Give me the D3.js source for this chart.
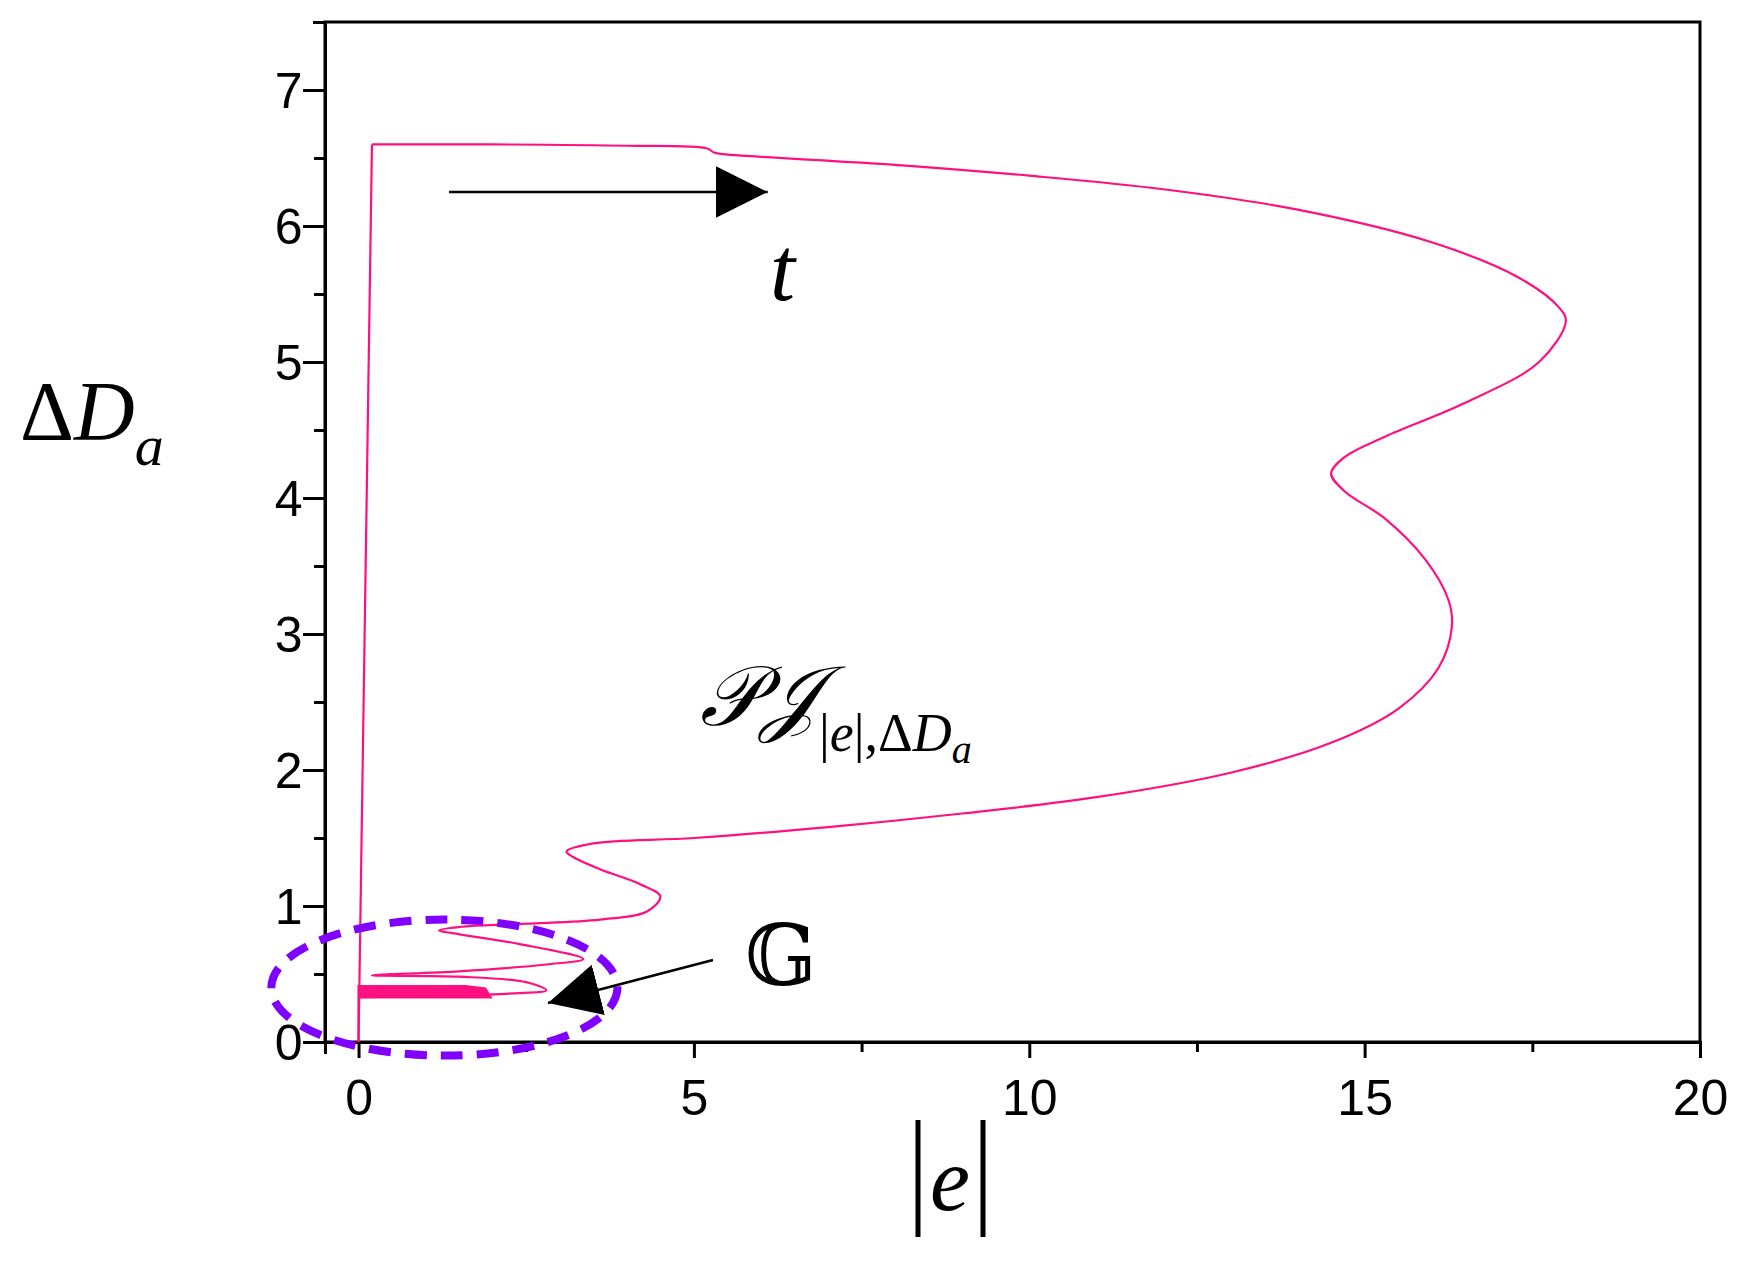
<!DOCTYPE html>
<html><head><meta charset="utf-8">
<script src="https://cdn.jsdelivr.net/npm/d3@7"></script>
<style>body{margin:0;background:#fff}</style></head>
<body><svg id="c" width="1747" height="1264"></svg>
<script>
const xTicks=[0,5,10,15,20];
const yTicks=[0,1,2,3,4,5,6,7];
// trajectory |e| vs ΔDa (upper part, smooth)
const curveE=[0.2,2,4,5.2,5.3,5.4,8,10,12,14,16,17.3,17.9,18,17.6,16.5,15.3,14.7,14.5,14.7,15.3,15.9,16.25,16.3,16.1,15.5,14.5,13,11,9,7,5,3.5,3.1,3.2,3.6,4.2,4.5,4.3,3.6,2.5,1.6,1.2,1.4,2.4,3.35,2.8,1.5,0.2,1.5,2.5,2.8,2.4,1.2,0.05];
const curveD=[6.6,6.6,6.59,6.57,6.54,6.53,6.45,6.37,6.27,6.12,5.88,5.62,5.4,5.3,5.0,4.7,4.45,4.3,4.18,4.05,3.85,3.55,3.25,3.05,2.75,2.45,2.2,1.98,1.8,1.68,1.58,1.5,1.46,1.4,1.36,1.27,1.16,1.07,0.96,0.9,0.87,0.85,0.82,0.8,0.72,0.61,0.57,0.52,0.49,0.48,0.44,0.38,0.36,0.34,0.33];
// initial jump and final return
const startE=[0,0.2], startD=[0,6.6];
const endE=[0.05,0,0], endD=[0.33,0.42,0];
const band=[[0,0.32],[2,0.32],[1.9,0.40],[1.6,0.42],[0,0.42]];
const svg=d3.select("#c");
const L=325,R=1700,T=22,B=1042;
const x=d3.scaleLinear().domain([-0.5,20]).range([L,R]);
const y=d3.scaleLinear().domain([0,7.5]).range([B,T]);
const font="Arial, 'Liberation Sans', sans-serif";
svg.append("rect").attr("x",L).attr("y",T).attr("width",R-L).attr("height",B-T).attr("fill","none").attr("stroke","#000").attr("stroke-width",3);
const xa=svg.append("g").attr("transform",`translate(0,${B})`).call(d3.axisBottom(x).tickValues(d3.range(0,20.1,2.5)).tickSize(12).tickFormat(d=>xTicks.includes(d)?d:""));
const ya=svg.append("g").attr("transform",`translate(${L},0)`).call(d3.axisLeft(y).tickValues(d3.range(0,7.6,0.5)).tickSize(12).tickFormat(d=>yTicks.includes(d)?d:""));
[xa,ya].forEach(a=>{a.select(".domain").attr("stroke-width",3);a.selectAll(".tick line").attr("stroke-width",3);a.selectAll("text").attr("font-family",font).attr("font-size",50).attr("fill","#000");});
xa.selectAll(".tick line").attr("y2",d=>xTicks.includes(d)?16:10);
ya.selectAll(".tick line").attr("x2",d=>yTicks.includes(d)?-22:-11);
xa.selectAll("text").attr("dy","1.15em");
ya.selectAll("text").attr("dx","-0.15em").attr("dy","0.35em");
const col="#ff1080";
svg.append("polygon").attr("points",band.map(p=>[x(p[0]),y(p[1])].join(",")).join(" ")).attr("fill",col);
const lin=(E,D,c)=>svg.append("path").attr("d",d3.line().curve(c).x((d,i)=>x(E[i])).y((d,i)=>y(D[i]))(E)).attr("fill","none").attr("stroke",col).attr("stroke-width",2.2);
lin(startE,startD,d3.curveLinear);
lin(curveE,curveD,d3.curveCatmullRom.alpha(0.5));
lin(endE,endD,d3.curveLinear);
svg.append("ellipse").attr("cx",x(1.28)).attr("cy",y(0.4)).attr("rx",x(2.58)-x(0)).attr("ry",y(0)-y(0.5)).attr("fill","none").attr("stroke","#8000ff").attr("stroke-width",8).attr("stroke-dasharray","22,14");
const defs=svg.append("defs");
defs.append("marker").attr("id","ah").attr("viewBox","0 0 10 10").attr("refX",10).attr("refY",5).attr("markerUnits","userSpaceOnUse").attr("orient","auto")
 .attr("markerWidth",52).attr("markerHeight",52).append("path").attr("d","M0,0L10,5L0,10Z").attr("fill","#000");
svg.append("line").attr("x1",x(1.35)).attr("y1",y(6.25)).attr("x2",x(6.1)).attr("y2",y(6.25)).attr("stroke","#000").attr("stroke-width",2.5).attr("marker-end","url(#ah)");
svg.append("line").attr("x1",713).attr("y1",960).attr("x2",548).attr("y2",1003).attr("stroke","#000").attr("stroke-width",2.5).attr("marker-end","url(#ah)");
const serif="'Liberation Serif','DejaVu Serif',serif";
svg.append("text").attr("x",770).attr("y",300).attr("font-family",serif).attr("font-style","italic").attr("font-size",90).text("t");
svg.append("text").attr("x",745).attr("y",985).attr("font-family","'DejaVu Serif',serif").attr("font-size",84).text("𝔾");
const pj=svg.append("text").attr("x",700).attr("y",725).attr("font-family",serif).attr("font-size",84);
pj.append("tspan").attr("font-style","italic").text("𝒫𝒥");
pj.append("tspan").attr("font-size",54).attr("dy",26).text("|");
pj.append("tspan").attr("font-size",54).attr("font-style","italic").text("e");
pj.append("tspan").attr("font-size",54).text("|,Δ");
pj.append("tspan").attr("font-size",54).attr("font-style","italic").text("D");
pj.append("tspan").attr("font-size",40).attr("font-style","italic").attr("dy",12).text("a");
const yl=svg.append("text").attr("x",20).attr("y",440).attr("font-family",serif).attr("font-size",84);
yl.append("tspan").text("Δ");
yl.append("tspan").attr("font-style","italic").text("D");
yl.append("tspan").attr("font-style","italic").attr("font-size",58).attr("dy",25).text("a");
const xl=svg.append("text").attr("x",950).attr("y",1210).attr("text-anchor","middle").attr("font-family",serif).attr("font-size",90);
xl.append("tspan").attr("font-style","italic").text("e");
svg.append("line").attr("x1",918).attr("x2",918).attr("y1",1120).attr("y2",1237).attr("stroke","#000").attr("stroke-width",5);
svg.append("line").attr("x1",983).attr("x2",983).attr("y1",1120).attr("y2",1237).attr("stroke","#000").attr("stroke-width",5);
</script></body></html>
